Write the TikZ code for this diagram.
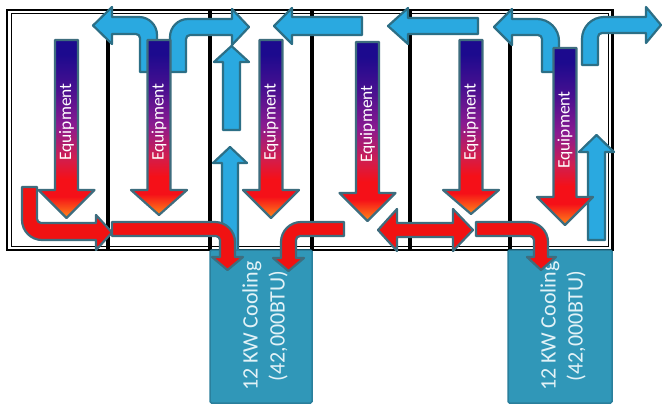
\documentclass[tikz,border=0pt]{standalone}
\usepackage{fontspec}
\setmainfont{Carlito}
\definecolor{bfill}{HTML}{2AA9E0}
\definecolor{bline}{HTML}{2C6F86}
\definecolor{rfill}{HTML}{F01212}
\definecolor{eqline}{HTML}{3E6D7E}
\definecolor{eqnavy}{HTML}{1C0A8E}
\definecolor{eqpurp}{HTML}{4A1090}
\definecolor{eqmag}{HTML}{8A1A90}
\definecolor{eqred}{HTML}{D01E50}
\definecolor{eqred2}{HTML}{F51018}
\definecolor{eqorange}{HTML}{FF8A1A}
\definecolor{coolfill}{HTML}{3097B8}
\definecolor{coolline}{HTML}{2A7F9C}
\definecolor{cooltext}{HTML}{E2F2F7}
\pgfdeclareverticalshading{equip}{100bp}{color(0bp)=(eqorange); color(25bp)=(eqorange); color(31bp)=(eqred2); color(36bp)=(eqred2); color(42bp)=(eqred); color(51bp)=(eqmag); color(61bp)=(eqpurp); color(71bp)=(eqnavy); color(100bp)=(eqnavy)}
\tikzset{
  bluearrow/.style={fill=bfill, draw=bline, line width=2.2pt, line join=round},
  redarrow/.style={fill=rfill, draw=eqline, line width=2.2pt, line join=round},
  equiparrow/.style={shading=equip, draw=eqline, line width=2.2pt, line join=round},
  equiptext/.style={text=white, font=\fontsize{17.5}{17.5}\selectfont, rotate=90, inner sep=0pt},
  coolbox/.style={fill=coolfill, draw=coolline, line width=1.5pt, rounded corners=1.5pt},
  cooltxt/.style={text=cooltext, font=\fontsize{22}{27}\selectfont, rotate=90, align=center, inner sep=0pt},
  divider/.style={black, line width=4pt}
}
\newcommand{\eqarrow}[5]{% name, cx, top, headbase, tip
  \shadedraw[equiparrow] ({#2-11.5},#3) -- ({#2+11.5},#3) -- ({#2+11.5},#4) -- ({#2+28},#4) -- (#2,#5) -- ({#2-28},#4) -- ({#2-11.5},#4) -- cycle;
  \node[equiptext] (#1) at (#2,{#3+82}) {Equipment};
}
\begin{document}
\begin{tikzpicture}[x=1pt,y=-1pt]
\useasboundingbox (0,0) rectangle (662,407);
\fill[white] (0,0) rectangle (662,407);
% rack frame
\draw[black, line width=2.5pt] (7,10) rectangle (612.5,250);
\draw[black, line width=0.9pt] (11,13.5) rectangle (608.5,246.5);
\foreach \x in {108,210,312,410,510} \draw[divider] (\x,10) -- (\x,250);
% blue arrows
\draw[bluearrow] (140,72) -- (157,72) -- (157,35) .. controls (157,25.1) and (148.9,17) .. (139,17) -- (112,17) -- (112,7) -- (93,25.5) -- (112,44) -- (112,34) -- (136,34) .. controls (138.2,34) and (140,35.8) .. (140,38) -- cycle;
\draw[bluearrow] (186,72) -- (170,72) -- (170,37) .. controls (170,27.1) and (178.1,19) .. (188,19) -- (232,19) -- (232,9) -- (249,27) -- (232,45) -- (232,35) -- (190,35) .. controls (187.8,35) and (186,36.8) .. (186,39) -- cycle;
\draw[bluearrow] (223,130) -- (223,62) -- (214,62) -- (231.5,46) -- (249,62) -- (240,62) -- (240,130) -- cycle;
\draw[bluearrow] (222,252) -- (222,163) -- (213,163) -- (230,147) -- (247,163) -- (238,163) -- (238,252) -- cycle;
\draw[bluearrow] (362,17) -- (292,17) -- (292,8) -- (274,26) -- (292,44) -- (292,35) -- (362,35) -- cycle;
\draw[bluearrow] (478,18) -- (408,18) -- (408,8) -- (388,26) -- (408,44) -- (408,34) -- (478,34) -- cycle;
\draw[bluearrow] (542,72) -- (559,72) -- (559,41) .. controls (559,28.9) and (549.1,19) .. (537,19) -- (512,19) -- (512,9) -- (494,27) -- (512,45) -- (512,35) -- (538,35) .. controls (540.2,35) and (542,36.8) .. (542,39) -- cycle;
\draw[bluearrow] (598,65) -- (582,65) -- (582,39) .. controls (582,26.9) and (591.9,17) .. (604,17) -- (646,17) -- (646,7) -- (661,25) -- (646,43) -- (646,33) -- (602,33) .. controls (599.8,33) and (598,34.8) .. (598,37) -- cycle;
\draw[bluearrow] (588,240) -- (588,152) -- (579,152) -- (596.5,135) -- (614,152) -- (605,152) -- (605,240) -- cycle;
% cooling units
\draw[coolbox] (210,250) rectangle (312,403);
\draw[coolbox] (508,250) rectangle (612,403);
\node[cooltxt] (cool1) at (265,326) {12 KW Cooling\\(42,000BTU)};
\node[cooltxt] (cool2) at (563,326) {12 KW Cooling\\(42,000BTU)};
% red arrows
\draw[redarrow] (37,187) -- (22,187) -- (22,220) .. controls (22,231) and (31,240) .. (42,240) -- (96,240) -- (96,250) -- (112,232.5) -- (96,215) -- (96,223) -- (41,223) .. controls (38.8,223) and (37,220.8) .. (37,219) -- cycle;
\draw[redarrow] (112,222) -- (215,222) .. controls (226,222) and (235,231) .. (235,242) -- (235,257) -- (243,257) -- (227.5,270) -- (212,257) -- (220,257) -- (220,240) .. controls (220,237.8) and (217.8,236) .. (216,236) -- (112,236) -- cycle;
\draw[redarrow] (344,222) -- (301,222) .. controls (290,222) and (281,231) .. (281,242) -- (281,258) -- (273,258) -- (288.5,271) -- (304,258) -- (296,258) -- (296,240) .. controls (296,237.8) and (297.8,236) .. (300,236) -- (344,236) -- cycle;
\draw[redarrow] (378,230) -- (397,209) -- (397,223) -- (453,223) -- (453,209) -- (473,230) -- (453,251) -- (453,237) -- (397,237) -- (397,251) -- cycle;
\draw[redarrow] (476,222) -- (528,222) .. controls (539,222) and (548,231) .. (548,242) -- (548,257) -- (556,257) -- (541,270) -- (527,257) -- (534,257) -- (534,240) .. controls (534,237.8) and (531.8,236) .. (530,236) -- (476,236) -- cycle;
% equipment arrows
\eqarrow{eq1}{66.5}{40}{190}{218}
\eqarrow{eq2}{159}{40}{190}{215}
\eqarrow{eq3}{271}{40}{190}{218}
\eqarrow{eq4}{367.5}{42}{193}{221}
\eqarrow{eq5}{471}{40}{190}{214}
\eqarrow{eq6}{565}{48}{197}{225}
\end{tikzpicture}
\end{document}
